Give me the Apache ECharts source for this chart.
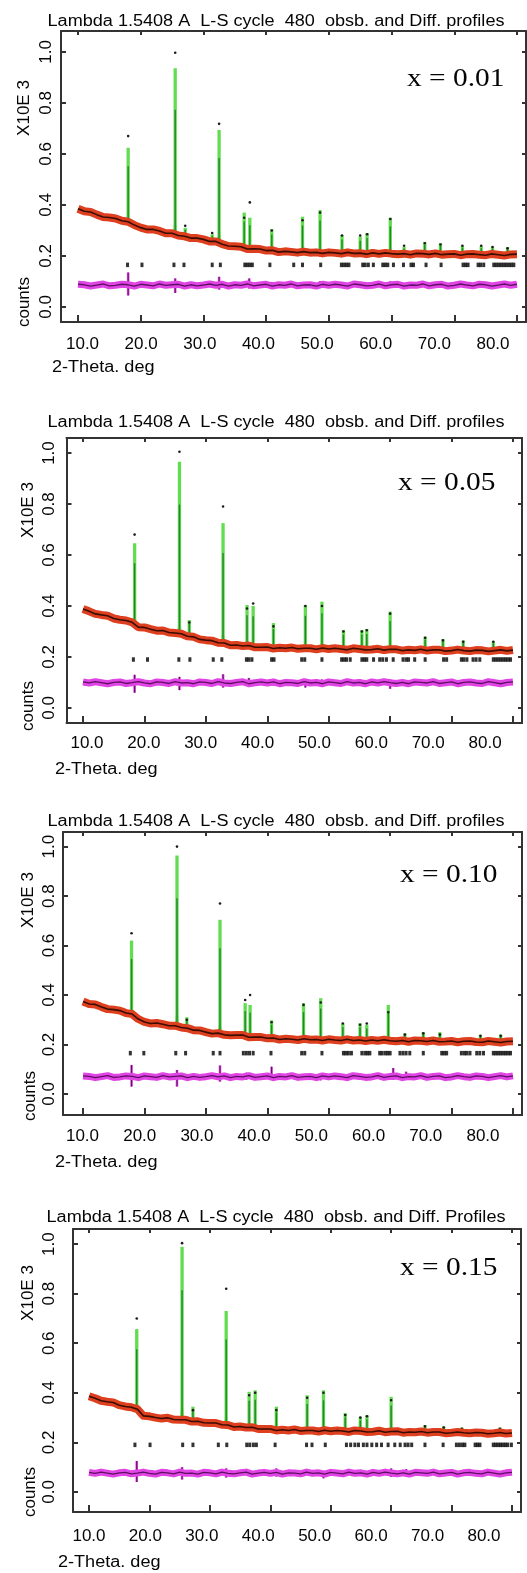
<!DOCTYPE html>
<html>
<head>
<meta charset="utf-8">
<script src="https://cdn.jsdelivr.net/npm/echarts@6.0.0/dist/echarts.min.js"></script>
<style>
  html, body { margin: 0; padding: 0; background: #ffffff; }
  #chart { width: 527px; height: 1573px; }
</style>
</head>
<body>
<div id="chart"></div>
<script>
// ---- Rietveld refinement profiles: observed, calculated, difference, reflection marks ----

// 2-theta grid of the observed background / difference curves (deg)
const twoTheta = [
  10, 11, 12, 13, 14, 15, 16, 17, 18, 19,
  20, 21, 22, 23, 24, 25, 26, 27, 28, 29,
  30, 31, 32, 33, 34, 35, 36, 37, 38, 39,
  40, 41, 42, 43, 44, 45, 46, 47, 48, 49,
  50, 51, 52, 53, 54, 55, 56, 57, 58, 59,
  60, 61, 62, 63, 64, 65, 66, 67, 68, 69,
  70, 71, 72, 73, 74, 75, 76, 77, 78, 79,
  80
];

const xTickValues = [10, 20, 30, 40, 50, 60, 70, 80];
const yTickValues = [0, 0.2, 0.4, 0.6, 0.8, 1.0];

const compositions = ['x = 0.01', 'x = 0.05', 'x = 0.10', 'x = 0.15'];
const plotTitles = [
  'Lambda 1.5408 A  L-S cycle  480  obsb. and Diff. profiles',
  'Lambda 1.5408 A  L-S cycle  480  obsb. and Diff. profiles',
  'Lambda 1.5408 A  L-S cycle  480  obsb. and Diff. profiles',
  'Lambda 1.5408 A  L-S cycle  480  obsb. and Diff. Profiles'
];

// observed counts between the Bragg peaks (x10^3)
const obs1 = [
  .385, .375, .372, .362, .353, .351, .347, .338, .334, .321,
  .311, .304, .304, .298, .289, .289, .280, .277, .270, .270,
  .265, .257, .257, .246, .239, .238, .236, .227, .228, .227,
  .221, .222, .215, .218, .216, .213, .217, .213, .214, .210,
  .214, .212, .209, .214, .210, .211, .207, .212, .208, .212,
  .209, .207, .209, .205, .210, .209, .206, .210, .205, .207,
  .208, .203, .207, .208, .205, .203, .208, .205, .202, .206,
  .207
];
const obs2 = [
  .388, .379, .369, .365, .362, .351, .346, .343, .336, .317,
  .316, .309, .303, .304, .296, .294, .291, .281, .279, .269,
  .266, .264, .256, .255, .246, .247, .243, .245, .238, .238,
  .239, .233, .236, .234, .237, .232, .234, .234, .230, .235,
  .231, .234, .231, .228, .234, .231, .228, .229, .232, .227,
  .230, .230, .225, .228, .226, .230, .225, .228, .228, .223,
  .225, .229, .225, .223, .227, .226, .222, .225, .228, .224,
  .227
];
const obs3 = [
  .374, .364, .362, .352, .343, .341, .337, .327, .323, .303,
  .291, .285, .287, .282, .276, .276, .269, .266, .258, .257,
  .250, .244, .246, .239, .237, .238, .238, .229, .230, .230,
  .225, .226, .220, .223, .221, .218, .223, .219, .220, .216,
  .221, .218, .216, .221, .216, .218, .214, .218, .215, .219,
  .215, .213, .216, .211, .216, .215, .212, .216, .211, .212,
  .214, .209, .213, .214, .210, .209, .214, .211, .208, .212,
  .213
];
const obs4 = [
  .386, .378, .368, .364, .361, .350, .345, .342, .334, .307,
  .305, .300, .296, .299, .292, .291, .291, .284, .285, .279,
  .278, .278, .271, .270, .262, .264, .260, .261, .254, .254,
  .254, .248, .251, .248, .252, .246, .248, .248, .244, .249,
  .245, .248, .246, .242, .248, .246, .242, .243, .247, .241,
  .244, .245, .239, .242, .241, .244, .239, .242, .242, .237,
  .239, .242, .239, .237, .240, .239, .235, .237, .240, .236,
  .238
];

// Bragg peaks: [2-theta, background, calculated top, observed top]
const peaks1 = [
  [18.0, .334, .624, .670], [25.5, .284, .936, .997], [27.1, .279, .310, .318],
  [31.4, .260, .285, .290], [32.5, .255, .694, .718], [36.5, .232, .370, .350],
  [37.4, .230, .350, .410], [40.9, .221, .305, .300], [45.8, .215, .354, .340],
  [48.6, .214, .380, .370], [52.1, .212, .282, .280], [55.0, .212, .276, .280],
  [56.1, .211, .290, .285], [59.8, .212, .350, .345], [62.0, .210, .235, .240],
  [65.3, .211, .255, .250], [67.8, .209, .250, .245], [71.3, .209, .240, .240],
  [74.3, .207, .238, .240], [76.1, .206, .236, .235], [78.5, .206, .235, .230]
];
const peaks2 = [
  [18.4, .333, .646, .680], [25.7, .293, .966, 1.005], [27.3, .286, .345, .335],
  [32.8, .255, .725, .790], [36.7, .242, .404, .390], [37.7, .240, .400, .410],
  [41.0, .237, .333, .320], [46.2, .234, .404, .400], [48.9, .236, .417, .400],
  [52.4, .232, .306, .300], [55.4, .233, .306, .300], [56.2, .232, .310, .305],
  [60.0, .231, .378, .370], [65.7, .231, .280, .275], [68.6, .229, .270, .265],
  [71.9, .228, .265, .260], [76.8, .227, .262, .260]
];
const peaks3 = [
  [17.9, .322, .620, .650], [25.3, .272, .964, 1.000], [26.9, .268, .310, .300],
  [32.3, .244, .704, .770], [36.4, .236, .367, .380], [37.2, .234, .360, .400],
  [40.7, .226, .298, .290], [45.9, .222, .367, .360], [48.7, .221, .387, .370],
  [52.3, .220, .286, .285], [55.1, .220, .286, .280], [56.2, .219, .280, .285],
  [59.7, .218, .360, .330], [62.4, .218, .245, .240], [65.4, .217, .250, .245],
  [68.1, .216, .250, .240], [74.7, .213, .238, .235], [78.0, .212, .240, .235]
];
const peaks4 = [
  [17.9, .330, .657, .700], [25.4, .290, .989, 1.004], [27.2, .288, .344, .330],
  [32.7, .272, .730, .820], [36.5, .260, .404, .390], [37.5, .258, .410, .400],
  [41.0, .252, .344, .330], [46.1, .250, .390, .380], [48.8, .248, .410, .400],
  [52.4, .246, .318, .310], [54.9, .245, .303, .300], [56.0, .244, .310, .305],
  [60.0, .242, .384, .370], [65.6, .240, .270, .265], [68.7, .239, .265, .260],
  [71.7, .238, .260, .255], [78.0, .236, .260, .255]
];

// difference (obs - calc) curve, offset below the profile
const diff1 = [
  .089, .087, .082, .086, .090, .083, .085, .089, .087, .082,
  .089, .086, .083, .090, .085, .087, .089, .082, .087, .083,
  .086, .090, .085, .089, .082, .087, .085, .090, .083, .086,
  .089, .082, .087, .085, .090, .083, .086, .087, .082, .089,
  .085, .089, .086, .082, .090, .087, .083, .085, .090, .083,
  .087, .089, .082, .086, .085, .090, .083, .087, .089, .082,
  .085, .090, .086, .083, .089, .087, .082, .086, .090, .085,
  .089
];
const diff2 = [
  .102, .098, .103, .099, .095, .100, .102, .096, .099, .103,
  .098, .095, .102, .100, .096, .103, .098, .099, .095, .102,
  .100, .096, .103, .098, .096, .100, .103, .095, .099, .102,
  .098, .102, .095, .100, .099, .096, .103, .098, .100, .095,
  .102, .099, .096, .103, .098, .100, .095, .102, .098, .103,
  .099, .096, .100, .095, .102, .100, .098, .103, .096, .099,
  .102, .095, .100, .102, .098, .096, .103, .099, .095, .100,
  .102
];
const diff3 = [
  .073, .071, .066, .070, .074, .067, .069, .073, .071, .066,
  .073, .070, .067, .074, .069, .071, .073, .066, .071, .067,
  .070, .074, .069, .073, .066, .071, .069, .074, .067, .070,
  .073, .066, .071, .069, .074, .067, .070, .071, .066, .073,
  .069, .073, .070, .066, .074, .071, .067, .069, .074, .067,
  .071, .073, .066, .070, .069, .074, .067, .071, .073, .066,
  .069, .074, .070, .067, .073, .071, .066, .070, .074, .069,
  .073
];
const diff4 = [
  .079, .075, .080, .076, .072, .077, .079, .073, .076, .080,
  .075, .072, .079, .077, .073, .080, .075, .076, .072, .079,
  .077, .073, .080, .075, .073, .077, .080, .072, .076, .079,
  .075, .079, .072, .077, .076, .073, .080, .075, .077, .072,
  .079, .076, .073, .080, .075, .077, .072, .079, .075, .080,
  .076, .073, .077, .072, .079, .077, .075, .080, .073, .076,
  .079, .072, .077, .079, .075, .073, .080, .076, .072, .077,
  .079
];

// residual spikes at the peak positions: [2-theta, low, high]
const spikes1 = [
  [18.0, .045, .135], [25.5, .055, .112], [32.5, .068, .118], [37.3, .072, .112],
  [40.9, .076, .098], [45.8, .077, .097], [48.6, .074, .101], [55.8, .078, .098],
  [59.8, .075, .100], [63.5, .078, .097]
];
const spikes2 = [
  [18.4, .060, .130], [25.7, .070, .122], [32.8, .080, .132], [37.0, .085, .118],
  [41.0, .088, .114], [46.2, .080, .112], [48.9, .086, .112], [52.4, .088, .110],
  [60.0, .075, .112], [65.7, .088, .110]
];
const spikes3 = [
  [17.9, .030, .117], [25.3, .030, .097], [32.3, .050, .115], [36.6, .058, .086],
  [40.7, .058, .110], [48.7, .055, .082], [60.5, .058, .105], [62.6, .060, .090]
];
const spikes4 = [
  [17.9, .040, .125], [25.4, .050, .100], [32.7, .058, .095], [36.5, .065, .088],
  [41.0, .062, .095], [48.8, .055, .085], [52.4, .065, .088], [60.0, .060, .095],
  [62.5, .062, .092]
];

// allowed reflection positions (deg) and the level their marks sit at
const refl1 = [
  17.9, 20.2, 25.3, 26.9, 31.4, 32.7, 36.6, 37.0, 37.4, 37.8, 40.6, 44.4, 45.8, 48.7,
  52.0, 52.4, 52.8, 53.2, 55.4, 55.8, 56.3, 57.1, 58.6, 59.0, 59.4, 60.3, 61.9, 63.1,
  63.5, 65.5, 67.9, 71.4, 71.8, 72.2, 73.8, 74.2, 74.7, 76.3, 76.7, 77.1, 77.5, 77.9,
  78.3, 78.7, 79.1, 79.5
];
const refl2 = [
  18.2, 20.5, 25.6, 27.4, 31.2, 32.6, 36.6, 37.0, 37.5, 40.7, 41.1, 45.6, 46.1, 48.9,
  52.1, 52.5, 52.9, 53.5, 55.4, 55.8, 56.2, 57.3, 58.3, 58.8, 59.4, 60.5, 62.1, 62.6,
  63.0, 64.0, 65.7, 68.7, 69.2, 71.6, 72.0, 72.5, 73.5, 74.0, 74.6, 76.8, 77.2, 77.6,
  78.0, 78.4, 78.8, 79.2, 79.6
];
const refl3 = [
  17.7, 19.9, 25.1, 26.7, 31.2, 32.3, 36.1, 36.6, 37.1, 37.7, 40.6, 45.6, 46.1, 48.9,
  52.4, 52.8, 53.2, 53.7, 55.4, 55.9, 56.3, 56.7, 58.3, 58.7, 59.2, 59.6, 60.0, 61.6,
  62.1, 62.6, 63.2, 65.4, 68.4, 68.8, 69.2, 71.6, 72.1, 72.5, 73.0, 74.1, 74.6, 75.2,
  76.8, 77.2, 77.6, 78.0, 78.4, 78.8, 79.2, 79.6
];
const refl4 = [
  17.6, 20.1, 25.5, 27.2, 31.4, 32.8, 36.1, 36.6, 37.2, 37.7, 40.8, 46.0, 46.9, 49.1,
  52.6, 53.3, 54.0, 54.6, 55.4, 56.0, 56.8, 57.6, 58.4, 59.5, 60.6, 61.5, 62.3, 62.8,
  63.4, 65.6, 68.6, 70.8, 71.3, 71.8, 72.2, 73.9, 74.3, 74.7, 76.9, 77.3, 77.7, 78.1,
  78.5, 78.9, 79.3, 79.9
];
const reflLevel = [0.165, 0.19, 0.165, 0.19];

// ---- page layout of the four stacked plots (pixels) ----
const frames = [
  { left: 61, top: 31, width: 465, height: 291, xMin: 7.29, xMax: 81.44, yMin: -0.059, yMax: 1.082,
    lMin: 6.33, lMax: 85.63, yLabelMargin: 6, xLabelMargin: 14, titleY: 22, tagX: 407, tagY: 79,
    unitX: 24, unitY: 108, countsX: 24, countsY: 302, xNameX: 52, xNameY: 368 },
  { left: 66.5, top: 438, width: 455.5, height: 285, xMin: 7.31, xMax: 81.47, yMin: -0.059, yMax: 1.059,
    lMin: 6.40, lMax: 86.50, yLabelMargin: 8.5, xLabelMargin: 12, titleY: 423, tagX: 398, tagY: 483,
    unitX: 28, unitY: 510, countsX: 28, countsY: 706, xNameX: 55, xNameY: 770 },
  { left: 63, top: 832, width: 459, height: 283, xMin: 6.74, xMax: 81.47, yMin: -0.085, yMax: 1.059,
    lMin: 6.59, lMax: 86.82, yLabelMargin: 5, xLabelMargin: 13, titleY: 822, tagX: 400, tagY: 875,
    unitX: 28, unitY: 900, countsX: 30, countsY: 1096, xNameX: 55, xNameY: 1163 },
  { left: 73, top: 1229, width: 448, height: 283, xMin: 7.35, xMax: 81.49, yMin: -0.081, yMax: 1.061,
    lMin: 7.17, lMax: 86.56, yLabelMargin: 15, xLabelMargin: 16, titleY: 1218, tagX: 400, tagY: 1268,
    unitX: 28, unitY: 1293, countsX: 30, countsY: 1492, xNameX: 58, xNameY: 1563 }
];

const datasets = [
  { obs: obs1, diff: diff1, peaks: peaks1, spikes: spikes1, refl: refl1 },
  { obs: obs2, diff: diff2, peaks: peaks2, spikes: spikes2, refl: refl2 },
  { obs: obs3, diff: diff3, peaks: peaks3, spikes: spikes3, refl: refl3 },
  { obs: obs4, diff: diff4, peaks: peaks4, spikes: spikes4, refl: refl4 }
];

const SANS = '"Liberation Sans", Arial, sans-serif';
const SERIF = '"Liberation Serif", "Times New Roman", serif';
const FRAME = '#333333';
const INK = '#050505';
const STRETCH = 1.13;

// calculated profile peaks: light green trace with the darker observed core and top point
function peakItem(params, api) {
  const x = api.value(0), base = api.value(1), top = api.value(2), obsTop = api.value(3);
  const pb = api.coord([x, base]);
  const pt = api.coord([x, top]);
  const pm = api.coord([x, base + (top - base) * 0.75]);
  const po = api.coord([x, obsTop]);
  const pl = api.coord([x - 0.35, base]);
  const pr = api.coord([x + 0.35, base]);
  const ps = api.coord([x, base + (top - base) * 0.15]);
  return {
    type: 'group',
    children: [
      { type: 'polygon', shape: { points: [pl, ps, pr] }, style: { fill: '#74e262' } },
      { type: 'line', shape: { x1: pb[0], y1: pb[1], x2: pt[0], y2: pt[1] },
        style: { stroke: '#62dc50', lineWidth: 3.3 } },
      { type: 'line', shape: { x1: pb[0], y1: pb[1], x2: pm[0], y2: pm[1] },
        style: { stroke: '#238628', lineWidth: 1.4 } },
      { type: 'circle', shape: { cx: po[0], cy: po[1], r: 1.3 }, style: { fill: '#1c1c1c' } }
    ]
  };
}

// residual spikes of the difference curve
function spikeItem(params, api) {
  const a = api.coord([api.value(0), api.value(1)]);
  const b = api.coord([api.value(0), api.value(2)]);
  return {
    type: 'group',
    children: [
      { type: 'line', shape: { x1: a[0], y1: a[1], x2: b[0], y2: b[1] },
        style: { stroke: '#e24ae4', lineWidth: 2.6 } },
      { type: 'line', shape: { x1: a[0], y1: a[1], x2: b[0], y2: b[1] },
        style: { stroke: '#5a1060', lineWidth: 1.1 } }
    ]
  };
}

const grid = [], xAxis = [], yAxis = [], series = [], graphic = [];

frames.forEach((f, i) => {
  const d = datasets[i];
  grid.push({ left: f.left, top: f.top, width: f.width, height: f.height, containLabel: false });

  const frameLine = { show: true, onZero: false, lineStyle: { color: FRAME, width: 2 } };
  // data axis (bottom frame + ticks)
  xAxis.push({
    gridIndex: i, type: 'value', position: 'bottom', min: f.xMin, max: f.xMax,
    axisLine: frameLine,
    axisTick: { show: true, inside: true, length: 7, customValues: xTickValues, lineStyle: { color: FRAME, width: 2 } },
    axisLabel: { show: false }, splitLine: { show: false }
  });
  // top frame
  xAxis.push({
    gridIndex: i, type: 'value', position: 'top', min: f.xMin, max: f.xMax,
    axisLine: frameLine,
    axisTick: { show: true, inside: true, length: 4, customValues: xTickValues, lineStyle: { color: FRAME, width: 2 } },
    axisLabel: { show: false }, splitLine: { show: false }
  });
  // tick label row
  xAxis.push({
    gridIndex: i, type: 'value', position: 'bottom', min: f.lMin, max: f.lMax,
    axisLine: { show: false, onZero: false }, axisTick: { show: false }, splitLine: { show: false },
    axisLabel: {
      show: true, customValues: xTickValues, margin: f.xLabelMargin,
      formatter: v => v.toFixed(1), fontFamily: SANS, fontSize: 17, color: INK
    }
  });
  yAxis.push({
    gridIndex: i, type: 'value', position: 'left', min: f.yMin, max: f.yMax,
    axisLine: frameLine,
    axisTick: { show: true, inside: true, length: 5, customValues: yTickValues, lineStyle: { color: FRAME, width: 2 } },
    axisLabel: {
      show: true, customValues: yTickValues, rotate: 90, margin: f.yLabelMargin,
      formatter: v => v.toFixed(1), fontFamily: SANS, fontSize: 17, color: INK
    },
    splitLine: { show: false }
  });
  yAxis.push({
    gridIndex: i, type: 'value', position: 'right', min: f.yMin, max: f.yMax,
    axisLine: frameLine,
    axisTick: { show: true, inside: true, length: 4, customValues: yTickValues, lineStyle: { color: FRAME, width: 2 } },
    axisLabel: { show: false }, splitLine: { show: false }
  });

  const xi = i * 3, yi = i * 2;
  const obsPts = twoTheta.map((t, k) => [t, d.obs[k]]);
  const diffPts = twoTheta.map((t, k) => [t, d.diff[k]]);

  series.push({
    type: 'custom', name: 'calc', xAxisIndex: xi, yAxisIndex: yi, z: 2,
    data: d.peaks, encode: { x: 0, y: [1, 2, 3] }, renderItem: peakItem, silent: true
  });
  series.push({
    type: 'line', name: 'obs', xAxisIndex: xi, yAxisIndex: yi, z: 3, data: obsPts,
    symbol: 'none', lineStyle: { color: '#de3f1e', width: 8, join: 'round' }, silent: true
  });
  series.push({
    type: 'line', name: 'obs core', xAxisIndex: xi, yAxisIndex: yi, z: 4, data: obsPts,
    symbol: 'none', lineStyle: { color: '#3a0d03', width: 1.6 }, silent: true
  });
  series.push({
    type: 'scatter', name: 'reflections', xAxisIndex: xi, yAxisIndex: yi, z: 4,
    data: d.refl.map(p => [p, reflLevel[i]]),
    symbol: 'rect', symbolSize: [3, 4.5], itemStyle: { color: '#000000' }, silent: true
  });
  series.push({
    type: 'line', name: 'diff', xAxisIndex: xi, yAxisIndex: yi, z: 3, data: diffPts,
    symbol: 'none', lineStyle: { color: '#e144e4', width: 7, join: 'round' }, silent: true
  });
  series.push({
    type: 'custom', name: 'diff spikes', xAxisIndex: xi, yAxisIndex: yi, z: 3,
    data: d.spikes, encode: { x: 0, y: [1, 2] }, renderItem: spikeItem, silent: true
  });
  series.push({
    type: 'line', name: 'diff core', xAxisIndex: xi, yAxisIndex: yi, z: 4, data: diffPts,
    symbol: 'none', lineStyle: { color: '#5e1064', width: 1.3 }, silent: true
  });

  // plot heading, composition tag and axis captions
  graphic.push({
    type: 'text', x: 276, y: f.titleY, scaleX: STRETCH,
    style: { text: plotTitles[i], font: '16px ' + SANS, fill: INK, align: 'center', verticalAlign: 'middle' }
  });
  graphic.push({
    type: 'text', x: f.tagX, y: f.tagY, scaleX: STRETCH,
    style: { text: compositions[i], font: '26px ' + SERIF, fill: INK, align: 'left', verticalAlign: 'middle' }
  });
  graphic.push({
    type: 'text', x: f.unitX, y: f.unitY, rotation: Math.PI / 2,
    style: { text: 'X10E 3', font: '17px ' + SANS, fill: INK, align: 'center', verticalAlign: 'middle' }
  });
  graphic.push({
    type: 'text', x: f.countsX, y: f.countsY, rotation: Math.PI / 2,
    style: { text: 'counts', font: '17px ' + SANS, fill: INK, align: 'center', verticalAlign: 'middle' }
  });
  graphic.push({
    type: 'text', x: f.xNameX, y: f.xNameY, scaleX: STRETCH,
    style: { text: '2-Theta. deg', font: '16px ' + SANS, fill: INK, align: 'left', verticalAlign: 'middle' }
  });
});

const chart = echarts.init(document.getElementById('chart'), null, { renderer: 'canvas' });
chart.setOption({
  animation: false,
  backgroundColor: '#ffffff',
  grid, xAxis, yAxis, series, graphic
});
</script>
</body>
</html>
